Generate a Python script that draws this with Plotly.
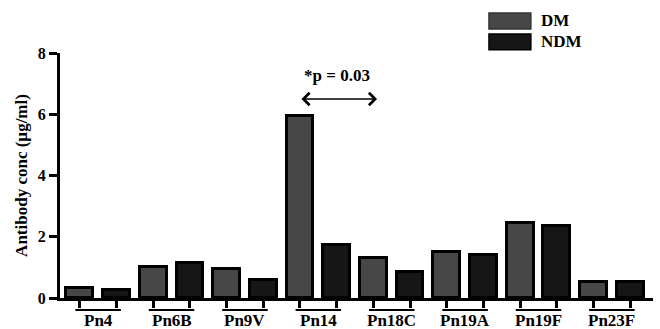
import plotly.graph_objects as go

categories = ["Pn4", "Pn6B", "Pn9V", "Pn14", "Pn18C", "Pn19A", "Pn19F", "Pn23F"]
dm_values = [0.34, 1.01, 0.94, 5.95, 1.30, 1.50, 2.46, 0.52]
ndm_values = [0.25, 1.14, 0.59, 1.73, 0.84, 1.40, 2.35, 0.52]
y_ticks = [0, 2, 4, 6, 8]
p_label = "*p = 0.03"

DM_COLOR = "#474747"
NDM_COLOR = "#161616"
FONT = "Liberation Serif"

dm_x = [2 * i for i in range(len(categories))]
ndm_x = [2 * i + 1 for i in range(len(categories))]

fig = go.Figure()
fig.add_trace(go.Bar(x=dm_x, y=dm_values, name="DM", width=0.73,
                     marker=dict(color=DM_COLOR, line=dict(color="black", width=3))))
fig.add_trace(go.Bar(x=ndm_x, y=ndm_values, name="NDM", width=0.73,
                     marker=dict(color=NDM_COLOR, line=dict(color="black", width=3))))

shapes = []
annotations = []
for i, c in enumerate(categories):
    shapes.append(dict(type="line", xref="x", yref="paper",
                       x0=2 * i - 0.12, x1=2 * i + 1 + 0.12, y0=-0.049, y1=-0.049,
                       line=dict(color="black", width=2)))
    annotations.append(dict(xref="x", yref="paper", x=2 * i + 0.5, y=-0.093,
                            text=f"<b>{c}</b>", showarrow=False, yanchor="middle",
                            font=dict(family=FONT, size=17, color="black")))

# legend
for j, (name, col) in enumerate([("DM", DM_COLOR), ("NDM", NDM_COLOR)]):
    y_top = 1.163 - j * 0.085
    shapes.append(dict(type="rect", xref="paper", yref="paper",
                       x0=0.7234, x1=0.794, y0=y_top - 0.065, y1=y_top,
                       fillcolor=col, line=dict(color="black" if j else "#333333", width=1.5)))
    annotations.append(dict(xref="paper", yref="paper", x=0.807, y=y_top - 0.032,
                            text=f"<b>{name}</b>", showarrow=False, xanchor="left",
                            yanchor="middle", font=dict(family=FONT, size=17, color="black")))

# significance arrow
annotations.append(dict(xref="x", yref="y", axref="x", ayref="y",
                        x=8.1, y=6.5, ax=6.0, ay=6.5, text="",
                        showarrow=True, arrowhead=4, startarrowhead=4, arrowside="end+start",
                        arrowwidth=1.6, arrowsize=1.5, startarrowsize=1.5, arrowcolor="black"))
annotations.append(dict(xref="x", yref="y", x=7.0, y=7.25, text=f"<b>{p_label}</b>",
                        showarrow=False, font=dict(family=FONT, size=17, color="black")))

fig.update_layout(
    width=660, height=329,
    margin=dict(l=60, r=7, t=53, b=31),
    plot_bgcolor="white", paper_bgcolor="white",
    showlegend=False,
    bargap=0,
    shapes=shapes,
    annotations=annotations,
    xaxis=dict(range=[-0.54, 15.62], tickvals=dm_x + ndm_x, showticklabels=False,
               ticks="outside", ticklen=7, tickwidth=3, tickcolor="black",
               showline=True, linewidth=3, linecolor="black", showgrid=False, zeroline=False),
    yaxis=dict(range=[0, 8], tickvals=y_ticks, ticktext=[f"<b>{v}</b>" for v in y_ticks],
               ticks="outside", ticklen=8, tickwidth=3, tickcolor="black",
               showline=True, linewidth=3, linecolor="black", showgrid=False, zeroline=False,
               tickfont=dict(family=FONT, size=16, color="black"),
               title=dict(text="<b>Antibody conc (µg/ml)</b>", standoff=6,
                          font=dict(family=FONT, size=17, color="black"))),
)

fig.write_html("out.html", config={"displayModeBar": False},
               post_script="document.body.style.margin='0';")
